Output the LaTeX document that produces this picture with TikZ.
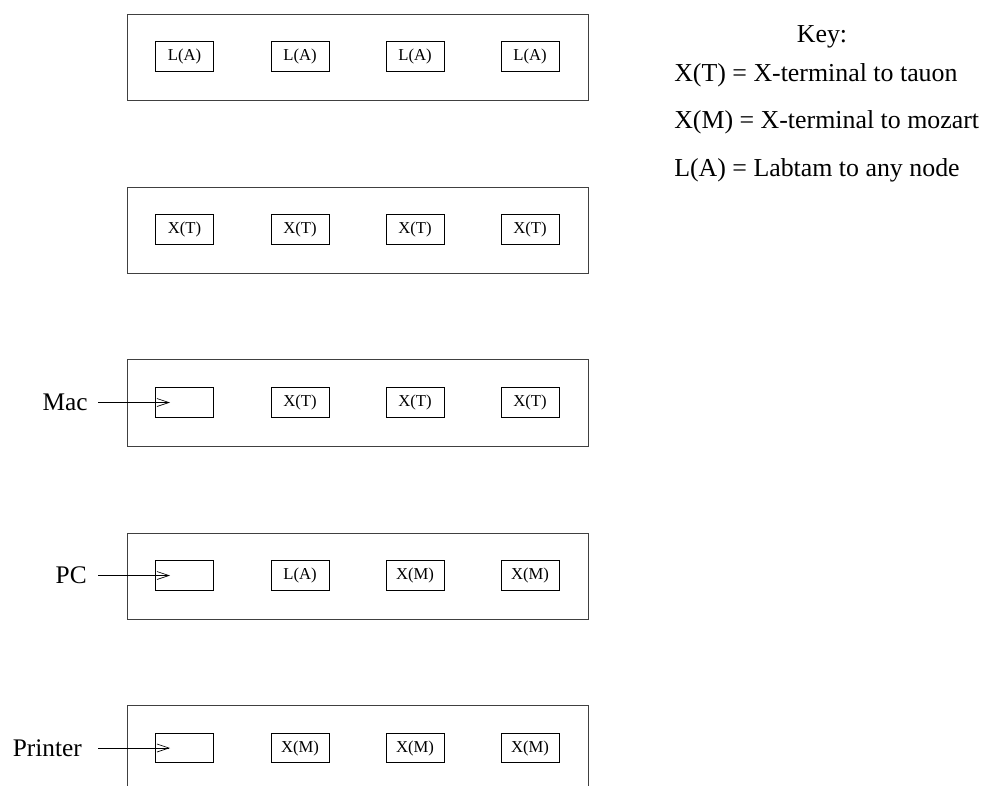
\documentclass[tikz,border=0pt]{standalone}
\usepackage{fontspec}
\setmainfont{Liberation Serif}
\usetikzlibrary{arrows.meta}
\begin{document}
\begin{tikzpicture}[x=0.75pt,y=-0.75pt,
  bigbox/.style={draw=black!75, line width=0.65pt},
  smallbox/.style={draw, line width=0.6pt, minimum width=43.5pt, minimum height=22pt, inner sep=0pt, font=\fontsize{12.5}{14}\selectfont},
  devlabel/.style={anchor=east, inner sep=0pt, font=\fontsize{19}{22}\selectfont},
  keytext/.style={anchor=west, inner sep=0pt, font=\fontsize{19.4}{22}\selectfont},
  feed/.style={line width=0.6pt, -{Straight Barb[length=9pt,width=6pt,line width=0.5pt]}}
]
\useasboundingbox (0,0) rectangle (983,786);
% big boxes
\draw[bigbox] (127,14) rectangle (588,100);
\draw[bigbox] (127,187) rectangle (588,273);
\draw[bigbox] (127,359) rectangle (588,446);
\draw[bigbox] (127,533) rectangle (588,619);
\draw[bigbox] (127,790) -- (127,705) -- (588,705) -- (588,790);
% row 1
\node[smallbox] (a1) at (184.5,56.5) {L(A)};
\node[smallbox] (a2) at (300,56.5) {L(A)};
\node[smallbox] (a3) at (415,56.5) {L(A)};
\node[smallbox] (a4) at (530,56.5) {L(A)};
% row 2
\node[smallbox] (b1) at (184.5,229.5) {X(T)};
\node[smallbox] (b2) at (300,229.5) {X(T)};
\node[smallbox] (b3) at (415,229.5) {X(T)};
\node[smallbox] (b4) at (530,229.5) {X(T)};
% row 3
\node[smallbox] (c1) at (184.5,402.5) {};
\node[smallbox] (c2) at (300,402.5) {X(T)};
\node[smallbox] (c3) at (415,402.5) {X(T)};
\node[smallbox] (c4) at (530,402.5) {X(T)};
% row 4
\node[smallbox] (d1) at (184.5,575.5) {};
\node[smallbox] (d2) at (300,575.5) {L(A)};
\node[smallbox] (d3) at (415,575.5) {X(M)};
\node[smallbox] (d4) at (530,575.5) {X(M)};
% row 5
\node[smallbox] (e1) at (184.5,748) {};
\node[smallbox] (e2) at (300,748) {X(M)};
\node[smallbox] (e3) at (415,748) {X(M)};
\node[smallbox] (e4) at (530,748) {X(M)};
% device labels
\node[devlabel] (mac) at (88,402.5) {Mac};
\node[devlabel] (pc) at (87,575.5) {PC};
\node[devlabel] (printer) at (82,748) {Printer};
\coordinate (macstart) at (98,402.5);
\coordinate (pcstart) at (98,575.5);
\coordinate (prstart) at (98,748);
\coordinate (macend) at (170,402.5);
\coordinate (pcend) at (170,575.5);
\coordinate (prend) at (170,748);
\draw[feed] (macstart) -- (macend);
\draw[feed] (pcstart) -- (pcend);
\draw[feed] (prstart) -- (prend);
% key
\node[inner sep=0pt, font=\fontsize{19.4}{22}\selectfont] (key) at (822,37) {Key:};
\node[keytext] (k1) at (674,75) {X(T) = X-terminal to tauon};
\node[keytext] (k2) at (674,122) {X(M) = X-terminal to mozart};
\node[keytext] (k3) at (674,170) {L(A) = Labtam to any node};
\end{tikzpicture}
\end{document}
